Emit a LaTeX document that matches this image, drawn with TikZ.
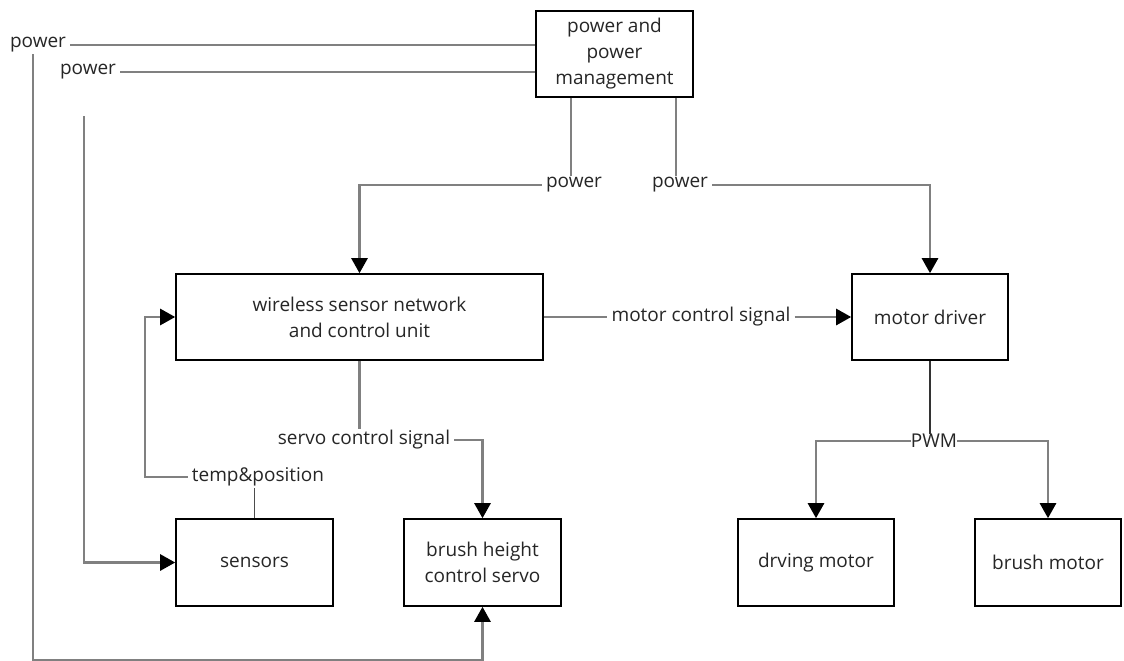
\documentclass[tikz,border=0pt]{standalone}
\usepackage{fontspec}
\setmainfont{Open Sans}
\usetikzlibrary{arrows.meta}
\begin{document}
\begin{tikzpicture}[x=1pt,y=-1pt,
  block/.style={draw=black,line width=1.6pt,fill=white,align=center,inner sep=2pt},
  tag/.style={fill=white,inner xsep=4pt,inner ysep=1.5pt},
  conn/.style={draw=black!50,line width=2.6pt},
  tip/.style={-{Triangle[color=black,width=16pt,length=15pt]}},
  every node/.style={font=\fontsize{19}{26}\selectfont,text=black!85}]
\useasboundingbox (0,0) rectangle (1124,661);
% blocks
\node[block,minimum width=157pt,minimum height=86pt] (pm) at (614.5,54) {power and\\power\\management};
\node[block,minimum width=367pt,minimum height=86pt] (wsn) at (359.5,317) {wireless sensor network\\and control unit};
\node[block,minimum width=156pt,minimum height=86pt] (md) at (930,317) {motor driver};
\node[block,minimum width=157pt,minimum height=87pt] (sen) at (254.5,562.5) {sensors};
\node[block,minimum width=157pt,minimum height=87pt] (servo) at (482.5,562.5) {brush height\\control servo};
\node[block,minimum width=156pt,minimum height=87pt] (drv) at (816,562.5) {drving motor};
\node[block,minimum width=146pt,minimum height=87pt] (brm) at (1048,562.5) {brush motor};
% labels on the lines
\node[tag] (pwA) at (38,45) {power};
\node[tag] (pwB) at (88,72) {power};
\node[tag] (pwC) at (574,185) {power};
\node[tag] (pwD) at (680,185) {power};
\node[tag] (tp) at (258,477) {temp\&position};
\node[tag] (scs) at (364,440) {servo control signal};
\node[tag] (mcs) at (701,317) {motor control signal};
\node[tag,inner sep=0pt] (pwm) at (934,441) {PWM};
\coordinate (cA) at (33,660);
\coordinate (cB) at (84,116);
\coordinate (cT) at (145,477);
% power lines
\draw[conn] (pm.west |- pwA) -- (pwA.east);
\draw[conn,tip] (pwA.south -| cA) -- (cA) -| (servo.south);
\draw[conn] (pm.west |- pwB) -- (pwB.east);
\draw[conn,tip] (cB) |- (sen.west);
\draw[conn] (pm.south -| 571,0) -- (pwC.north -| 571,0);
\draw[conn,tip] (pwC.west) -| (wsn.north);
\draw[conn] (pm.south -| 676,0) -- (pwD.north -| 676,0);
\draw[conn,tip] (pwD.east) -| (md.north);
% signals
\draw[conn,line width=1.2pt,black!70] (sen.north) -- (tp.south -| sen.north);
\draw[conn,tip] (tp.west) -- (cT) |- (wsn.west);
\draw[conn] (wsn.south) -- (scs.north -| wsn.south);
\draw[conn,tip] (scs.east) -| (servo.north);
\draw[conn] (wsn.east) -- (mcs.west);
\draw[conn,tip] (mcs.east) -- (md.west);
\draw[conn,black!80] (md.south) -- (pwm.north -| md.south);
\draw[conn,tip] (pwm.west) -| (drv.north);
\draw[conn,tip] (pwm.east) -| (brm.north);
\end{tikzpicture}
\end{document}
